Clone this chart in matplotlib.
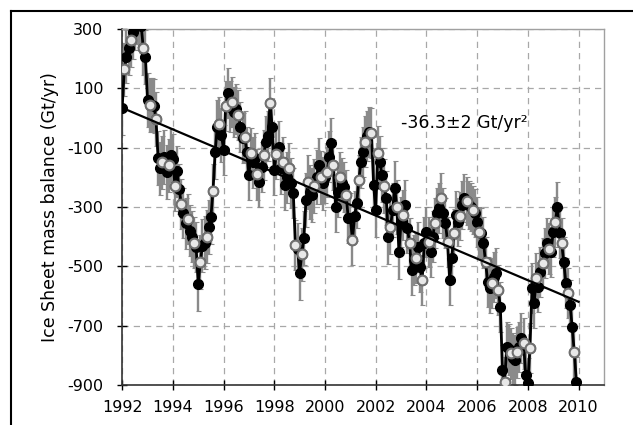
import numpy as np
import matplotlib.pyplot as plt
from matplotlib.lines import Line2D

plt.rcParams['axes.unicode_minus'] = False

# monthly ice sheet mass balance (Gt/yr), one row per year
mass_1992 = [34, 164, 207, 235, 262, 290, 320, 340, 330, 310, 236, 206]
mass_1993 = [60, 44, 44, 40, -3, -135, -170, -150, -131, -182, -160, -125]
mass_1994 = [-140, -230, -180, -240, -290, -320, -355, -340, -380, -400, -420, -435]
mass_1995 = [-560, -485, -430, -420, -400, -368, -334, -246, -115, -30, -20, -57]
mass_1996 = [-108, 40, 84, 38, 54, 20, 30, 10, -30, -67, -63, -115]
mass_1997 = [-192, -118, -150, -135, -190, -215, -165, -125, -80, -60, 50, -30]
mass_1998 = [-175, -120, -97, -170, -150, -225, -200, -170, -220, -253, -428, -440]
mass_1999 = [-522, -460, -405, -277, -216, -250, -260, -230, -199, -158, -200, -220]
mass_2000 = [-200, -182, -130, -84, -158, -300, -250, -200, -220, -232, -260, -337]
mass_2001 = [-337, -411, -330, -287, -209, -150, -115, -80, -60, -47, -51, -225]
mass_2002 = [-310, -118, -150, -192, -230, -270, -401, -367, -310, -236, -300, -451]
mass_2003 = [-350, -327, -293, -370, -421, -512, -479, -472, -435, -502, -546, -420]
mass_2004 = [-384, -418, -451, -400, -354, -320, -303, -270, -320, -354, -418, -546]
mass_2005 = [-472, -388, -327, -350, -330, -293, -270, -280, -293, -300, -310, -320]
mass_2006 = [-350, -384, -388, -420, -485, -552, -573, -556, -536, -522, -580, -637]
mass_2007 = [-849, -890, -772, -780, -793, -810, -816, -790, -772, -742, -760, -866]
mass_2008 = [-893, -775, -573, -624, -540, -570, -520, -489, -455, -421, -440, -451]
mass_2009 = [-384, -350, -300, -388, -421, -485, -556, -590, -630, -705, -790, -890]

# error per year (Gt/yr)
err_by_year = [90, 90, 85, 90, 85, 85, 85, 90, 85, 85, 90, 85, 85, 80, 85, 85, 85, 85]

trend_start = 34      # Gt/yr at 1992
trend_slope = -36.3   # Gt/yr^2

mass = np.array(mass_1992 + mass_1993 + mass_1994 + mass_1995 + mass_1996 + mass_1997 +
                mass_1998 + mass_1999 + mass_2000 + mass_2001 + mass_2002 + mass_2003 +
                mass_2004 + mass_2005 + mass_2006 + mass_2007 + mass_2008 + mass_2009, dtype=float)
years = 1992 + np.arange(len(mass)) / 12.0
err = np.repeat(err_by_year, 12)

fig = plt.figure(figsize=(6.33, 4.25), dpi=100)
ax = fig.add_axes([0.193, 0.094, 0.761, 0.838])

# error bars in grey
ax.errorbar(years, mass, yerr=err, fmt='none', ecolor='#8a8a8a',
            elinewidth=1.7, capsize=1.8, capthick=0.8, zorder=2)

# black line with filled circles
ax.plot(years, mass, color='black', lw=2.0, marker='o', ms=7,
        mfc='black', mec='black', zorder=3)

# some months shown as open circles
white = np.arange(len(mass)) % 3 == 1
ax.plot(years[white], mass[white], ls='none', marker='o', ms=7,
        mfc='#e8e8e8', mec='#707070', mew=1.5, zorder=4)

# linear trend
t_fit = np.array([1992, 2010])
ax.plot(t_fit, trend_start + trend_slope * (t_fit - 1992), color='black', lw=1.6, zorder=5)

ax.text(2003.0, -17, '-36.3±2 Gt/yr²', fontsize=12.5, va='center', ha='left')

ax.set_xlim(1992, 2011)
ax.set_ylim(-900, 300)
ax.set_xticks(np.arange(1992, 2011, 2))
ax.set_yticks(np.arange(-900, 301, 200))
ax.set_ylabel('Ice Sheet mass balance (Gt/yr)', fontsize=12.5, labelpad=6)

ax.grid(True, linestyle=(0, (5, 4)), color='#a8a8a8', lw=0.9)
ax.set_axisbelow(True)
ax.tick_params(direction='inout', length=7, width=1, labelsize=11.5, pad=10)
ax.tick_params(axis='x', pad=7)

for side in ['left', 'bottom']:
    ax.spines[side].set_color('#333333')
    ax.spines[side].set_linewidth(1.2)
for side in ['top', 'right']:
    ax.spines[side].set_color('#a0a0a0')
    ax.spines[side].set_linewidth(1.0)

# outer frame (top and left edges of the panel)
fig.add_artist(Line2D([11 / 633, 1], [1 - 11 / 425, 1 - 11 / 425], color='black', lw=1.5))
fig.add_artist(Line2D([11 / 633, 11 / 633], [0, 1 - 11 / 425], color='black', lw=1.5))

fig.savefig('out.png', dpi=100)
